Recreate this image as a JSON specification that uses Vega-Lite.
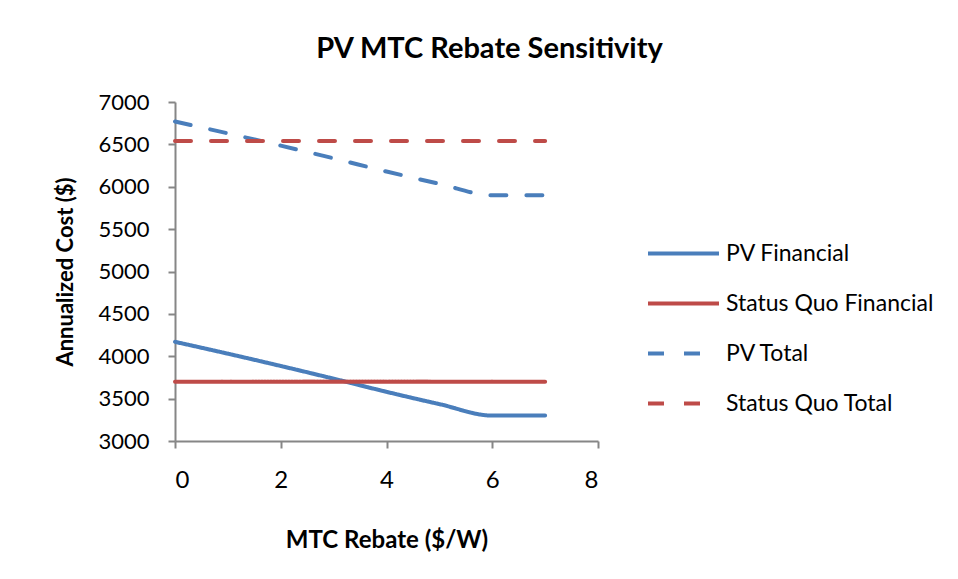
{
  "$schema": "https://vega.github.io/schema/vega-lite/v6.json",
  "width": 423,
  "height": 339,
  "autosize": {"type": "none"},
  "padding": {"left": 175, "top": 102, "right": 360, "bottom": 138},
  "background": "white",
  "title": {
    "text": "PV MTC Rebate Sensitivity",
    "anchor": "middle",
    "frame": "group",
    "baseline": "alphabetic",
    "offset": 4,
    "dx": 103,
    "font": "Lato",
    "fontSize": 29,
    "fontWeight": "bold",
    "color": "black"
  },
  "data": {
    "values": [
      {"rebate": 0, "cost": 4170, "series": "PV Financial"},
      {"rebate": 1, "cost": 4030, "series": "PV Financial"},
      {"rebate": 2, "cost": 3885, "series": "PV Financial"},
      {"rebate": 3, "cost": 3735, "series": "PV Financial"},
      {"rebate": 4, "cost": 3580, "series": "PV Financial"},
      {"rebate": 5, "cost": 3435, "series": "PV Financial"},
      {"rebate": 6, "cost": 3300, "series": "PV Financial"},
      {"rebate": 7, "cost": 3300, "series": "PV Financial"},
      {"rebate": 0, "cost": 3700, "series": "Status Quo Financial"},
      {"rebate": 1, "cost": 3700, "series": "Status Quo Financial"},
      {"rebate": 2, "cost": 3700, "series": "Status Quo Financial"},
      {"rebate": 3, "cost": 3700, "series": "Status Quo Financial"},
      {"rebate": 4, "cost": 3700, "series": "Status Quo Financial"},
      {"rebate": 5, "cost": 3700, "series": "Status Quo Financial"},
      {"rebate": 6, "cost": 3700, "series": "Status Quo Financial"},
      {"rebate": 7, "cost": 3700, "series": "Status Quo Financial"},
      {"rebate": 0, "cost": 6770, "series": "PV Total"},
      {"rebate": 1, "cost": 6630, "series": "PV Total"},
      {"rebate": 2, "cost": 6485, "series": "PV Total"},
      {"rebate": 3, "cost": 6335, "series": "PV Total"},
      {"rebate": 4, "cost": 6180, "series": "PV Total"},
      {"rebate": 5, "cost": 6035, "series": "PV Total"},
      {"rebate": 6, "cost": 5900, "series": "PV Total"},
      {"rebate": 7, "cost": 5900, "series": "PV Total"},
      {"rebate": 0, "cost": 6540, "series": "Status Quo Total"},
      {"rebate": 1, "cost": 6540, "series": "Status Quo Total"},
      {"rebate": 2, "cost": 6540, "series": "Status Quo Total"},
      {"rebate": 3, "cost": 6540, "series": "Status Quo Total"},
      {"rebate": 4, "cost": 6540, "series": "Status Quo Total"},
      {"rebate": 5, "cost": 6540, "series": "Status Quo Total"},
      {"rebate": 6, "cost": 6540, "series": "Status Quo Total"},
      {"rebate": 7, "cost": 6540, "series": "Status Quo Total"}
    ]
  },
  "mark": {"type": "line", "strokeWidth": 4, "strokeCap": "round", "interpolate": "monotone"},
  "encoding": {
    "x": {
      "field": "rebate",
      "type": "quantitative",
      "scale": {"domain": [0, 8], "nice": false},
      "axis": {
        "title": "MTC Rebate ($/W)",
        "values": [0, 2, 4, 6, 8],
        "labelFontSize": 24,
        "labelPadding": 20,
        "titlePadding": 36,
        "titleFontSize": 24
      }
    },
    "y": {
      "field": "cost",
      "type": "quantitative",
      "scale": {"domain": [3000, 7000], "nice": false, "zero": false},
      "axis": {
        "title": "Annualized Cost ($)",
        "format": "d",
        "values": [3000, 3500, 4000, 4500, 5000, 5500, 6000, 6500, 7000],
        "labelFontSize": 22,
        "labelPadding": 19,
        "titlePadding": 20,
        "titleFontSize": 22
      }
    },
    "color": {
      "field": "series",
      "type": "nominal",
      "scale": {
        "domain": ["PV Financial", "Status Quo Financial", "PV Total", "Status Quo Total"],
        "range": ["#4A7EBB", "#BE4B48", "#4A7EBB", "#BE4B48"]
      },
      "legend": {
        "title": null,
        "orient": "none",
        "legendX": 471,
        "legendY": 114,
        "padding": 0,
        "symbolType": "stroke",
        "symbolSize": 5041,
        "symbolStrokeWidth": 4,
        "labelFontSize": 23,
        "labelOffset": 5,
        "rowPadding": -25
      }
    },
    "strokeDash": {
      "field": "series",
      "type": "nominal",
      "scale": {
        "domain": ["PV Financial", "Status Quo Financial", "PV Total", "Status Quo Total"],
        "range": [[1, 0], [1, 0], [16, 20], [16, 20]]
      },
      "legend": {
        "title": null,
        "orient": "none",
        "legendX": 471,
        "legendY": 114,
        "padding": 0,
        "symbolType": "stroke",
        "symbolSize": 5041,
        "symbolStrokeWidth": 4,
        "labelFontSize": 23,
        "labelOffset": 5,
        "rowPadding": -25
      }
    }
  },
  "config": {
    "font": "Lato",
    "view": {"stroke": null},
    "axis": {
      "grid": false,
      "domainColor": "#868686",
      "domainWidth": 2,
      "tickColor": "#868686",
      "tickWidth": 2,
      "tickSize": 7,
      "labelColor": "black",
      "titleColor": "black",
      "labelFont": "Lato",
      "titleFont": "Lato",
      "titleFontWeight": "bold"
    },
    "legend": {
      "labelColor": "black",
      "labelFont": "Lato",
      "labelLimit": 400
    }
  }
}
